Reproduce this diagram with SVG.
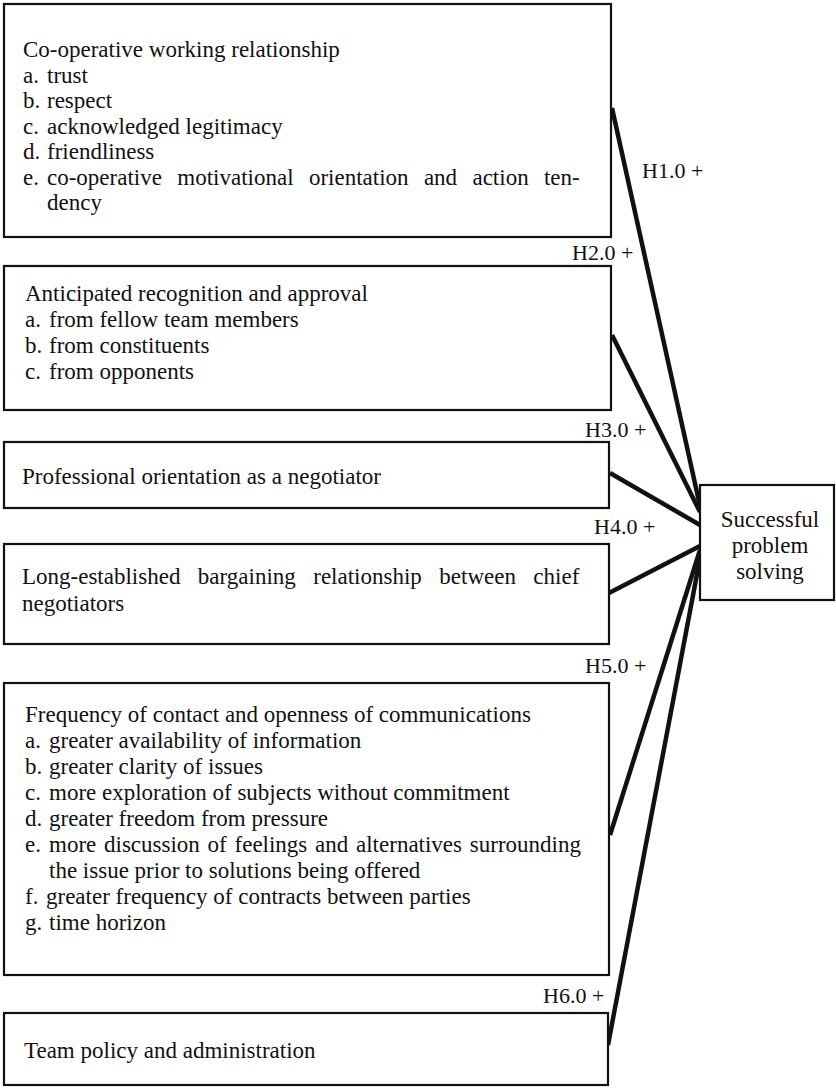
<svg xmlns="http://www.w3.org/2000/svg" width="836" height="1088" viewBox="0 0 836 1088">
<style>
.box{fill:#fff;stroke:#111;stroke-width:2.2}
.t{font-family:"Liberation Serif","Times New Roman",serif;font-size:23px;fill:#111}
.lbl{font-family:"Liberation Serif","Times New Roman",serif;font-size:22px;fill:#111}
.c{text-anchor:middle}
.edge{stroke:#111;stroke-width:4.5;fill:none;stroke-linecap:butt}
</style>
<rect width="836" height="1088" fill="#fff"/>
<g id="connectors">
<line class="edge" x1="612" y1="108" x2="700" y2="506"/>
<line class="edge" x1="612" y1="335" x2="700" y2="512"/>
<line class="edge" x1="610" y1="473" x2="700" y2="525"/>
<line class="edge" x1="609" y1="593" x2="700" y2="546"/>
<line class="edge" x1="610" y1="835" x2="700" y2="550"/>
<line class="edge" x1="608" y1="1045" x2="701" y2="553"/>
<text class="lbl" x="642" y="178">H1.0 +</text>
<text class="lbl" x="572" y="260">H2.0 +</text>
<text class="lbl" x="585" y="437">H3.0 +</text>
<text class="lbl" x="594" y="534">H4.0 +</text>
<text class="lbl" x="585" y="673">H5.0 +</text>
<text class="lbl" x="543" y="1003">H6.0 +</text>
</g>
<g id="n1">
<rect class="box" x="4" y="4" width="607" height="233"/>
<text class="t" x="23" y="57">Co-operative working relationship</text>
<text class="t" x="23" y="82.5">a.</text><text class="t" x="47" y="82.5">trust</text>
<text class="t" x="23" y="108">b.</text><text class="t" x="47" y="108">respect</text>
<text class="t" x="23" y="133.5">c.</text><text class="t" x="47" y="133.5">acknowledged legitimacy</text>
<text class="t" x="23" y="159">d.</text><text class="t" x="47" y="159">friendliness</text>
<text class="t" x="23" y="184.5">e.</text><text class="t" x="47" y="184.5" word-spacing="9.6">co-operative motivational orientation and action ten-</text>
<text class="t" x="47" y="210">dency</text>
</g>
<g id="n2">
<rect class="box" x="4" y="266" width="607" height="144"/>
<text class="t" x="25" y="301">Anticipated recognition and approval</text>
<text class="t" x="25" y="327">a.</text><text class="t" x="49" y="327">from fellow team members</text>
<text class="t" x="25" y="353">b.</text><text class="t" x="49" y="353">from constituents</text>
<text class="t" x="25" y="379">c.</text><text class="t" x="49" y="379">from opponents</text>
</g>
<g id="n3">
<rect class="box" x="4" y="442" width="605" height="66"/>
<text class="t" x="22" y="484">Professional orientation as a negotiator</text>
</g>
<g id="n4">
<rect class="box" x="4" y="544" width="605" height="100"/>
<text class="t" x="22" y="584" word-spacing="11.7">Long-established bargaining relationship between chief</text>
<text class="t" x="22" y="611">negotiators</text>
</g>
<g id="n5">
<rect class="box" x="4" y="683" width="605" height="292"/>
<text class="t" x="25" y="722">Frequency of contact and openness of communications</text>
<text class="t" x="25" y="748">a.</text><text class="t" x="49" y="748">greater availability of information</text>
<text class="t" x="25" y="774">b.</text><text class="t" x="49" y="774">greater clarity of issues</text>
<text class="t" x="25" y="800">c.</text><text class="t" x="49" y="800">more exploration of subjects without commitment</text>
<text class="t" x="25" y="826">d.</text><text class="t" x="49" y="826">greater freedom from pressure</text>
<text class="t" x="25" y="852">e.</text><text class="t" x="49" y="852" word-spacing="2">more discussion of feelings and alternatives surrounding</text>
<text class="t" x="49" y="878">the issue prior to solutions being offered</text>
<text class="t" x="25" y="904">f.</text><text class="t" x="46" y="904">greater frequency of contracts between parties</text>
<text class="t" x="25" y="930">g.</text><text class="t" x="49" y="930">time horizon</text>
</g>
<g id="n6">
<rect class="box" x="4" y="1013" width="604" height="72"/>
<text class="t" x="24" y="1058">Team policy and administration</text>
</g>
<g id="target">
<rect class="box" x="700" y="485" width="134" height="115"/>
<text class="t c" x="770" y="527">Successful</text>
<text class="t c" x="770" y="553">problem</text>
<text class="t c" x="770" y="579">solving</text>
</g>
</svg>
